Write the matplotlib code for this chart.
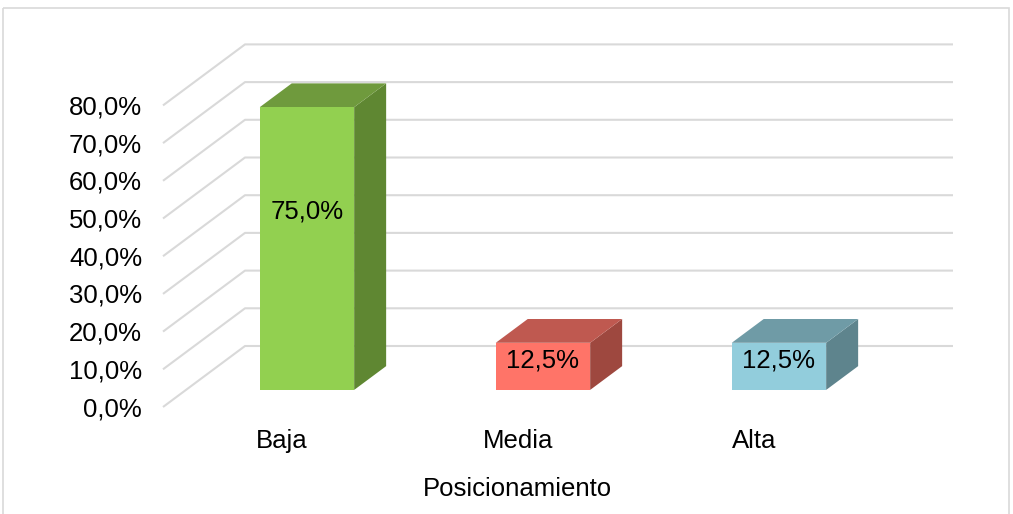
import matplotlib
matplotlib.use("Agg")
import matplotlib.pyplot as plt
from matplotlib.patches import Polygon, Rectangle

plt.rcParams['font.family'] = ['Liberation Sans', 'DejaVu Sans']

categorias = ["Baja", "Media", "Alta"]
valores = [75.0, 12.5, 12.5]
etiquetas = ["75,0%", "12,5%", "12,5%"]
ticks = [0, 10, 20, 30, 40, 50, 60, 70, 80]
tick_labels = ["0,0%", "10,0%", "20,0%", "30,0%", "40,0%", "50,0%", "60,0%", "70,0%", "80,0%"]
titulo_x = "Posicionamiento"

frente = ["#92D050", "#FF7468", "#92CDDC"]
tapa = ["#6F9A3D", "#BF5950", "#6F9BA6"]
lado = ["#5F8732", "#9E483F", "#5E848D"]

# geometria de la vista oblicua (en pixeles de la figura)
W, H = 1013, 514
x_izq, x_der = 163, 871      # plano frontal
y_cero = 407                 # 0% en el plano frontal
px_pct = 3.77                # pixeles por 1 %
prof_dx, prof_dy = 82, -61   # desplazamiento del plano frontal al fondo
ancho_cat = (x_der - x_izq) / len(categorias)
ancho_barra = 0.4 * ancho_cat
desp_barra = 3               # pequeno corrimiento de las barras
d1, d2 = 0.28, 0.67


def proj(x, v, d):
    return x + prof_dx * d, y_cero - v * px_pct + prof_dy * d


fig = plt.figure(figsize=(W / 100, H / 100), dpi=100)
ax = fig.add_axes([0, 0, 1, 1])
ax.set_xlim(0, W)
ax.set_ylim(H, 0)
ax.axis("off")

# marco del grafico
ax.add_patch(Rectangle((3, 8), 1006, 520, fill=False, edgecolor="#D9D9D9", lw=1.2))

# lineas de division
for t, lab in zip(ticks, tick_labels):
    p0 = proj(x_izq, t, 0)
    p1 = proj(x_izq, t, 1)
    p2 = proj(x_der, t, 1)
    ax.plot([p0[0], p1[0], p2[0]], [p0[1], p1[1], p2[1]], color="#D9D9D9", lw=1.5,
            solid_capstyle="butt", zorder=1)
    ax.text(142, p0[1] + 2, lab, ha="right", va="center", fontsize=18.5, color="#000000")

# barras 3D
for i, (cat, v) in enumerate(zip(categorias, valores)):
    xc = x_izq + ancho_cat * (i + 0.5)
    xa, xb = xc - ancho_barra / 2 + desp_barra, xc + ancho_barra / 2 + desp_barra
    f = [proj(xa, 0, d1), proj(xb, 0, d1), proj(xb, v, d1), proj(xa, v, d1)]
    s = [proj(xb, 0, d1), proj(xb, 0, d2), proj(xb, v, d2), proj(xb, v, d1)]
    tp = [proj(xa, v, d1), proj(xb, v, d1), proj(xb, v, d2), proj(xa, v, d2)]
    ax.add_patch(Polygon(s, closed=True, facecolor=lado[i], edgecolor="none", zorder=3))
    ax.add_patch(Polygon(tp, closed=True, facecolor=tapa[i], edgecolor="none", zorder=3))
    ax.add_patch(Polygon(f, closed=True, facecolor=frente[i], edgecolor="none", zorder=4))
    lx, ly = proj((xa + xb) / 2, v * 0.63, d1)
    ax.text(lx, ly, etiquetas[i], ha="center", va="center", fontsize=18.5, zorder=5)
    ax.text(xc + 1, 441, cat, ha="center", va="center", fontsize=18.5)

ax.text((x_izq + x_der) / 2, 489, titulo_x, ha="center", va="center", fontsize=18.5)

fig.savefig("out.png", dpi=100)
